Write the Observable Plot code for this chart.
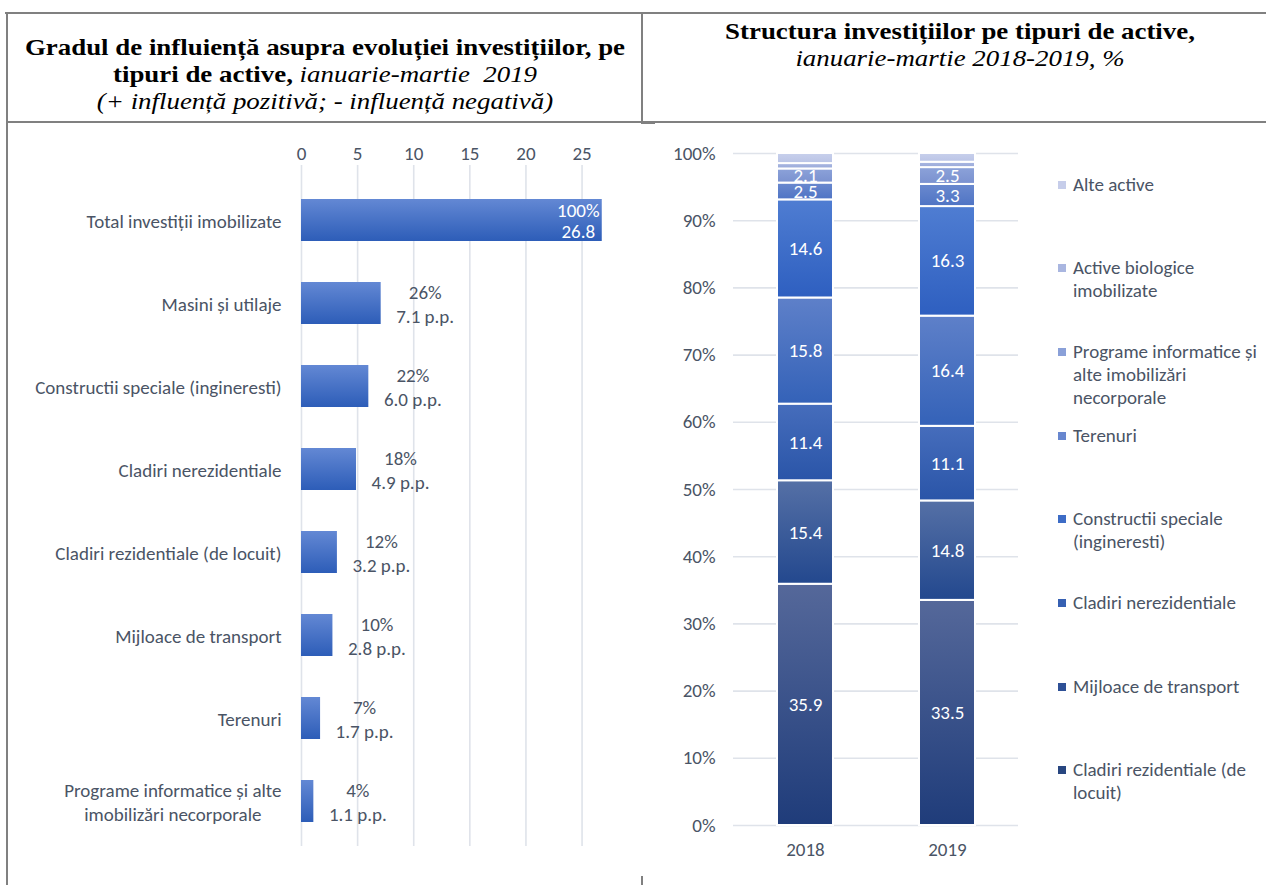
<!DOCTYPE html>
<html><head><meta charset="utf-8">
<script src="https://cdn.jsdelivr.net/npm/d3@7"></script>
<script src="https://cdn.jsdelivr.net/npm/@observablehq/plot@0.6"></script>
<style>
html,body{margin:0;padding:0;background:#fff;}
body{width:1266px;height:885px;position:relative;overflow:hidden;font-family:Carlito,Calibri,Lato,sans-serif;}
.ln{position:absolute;background:#808080;}
.title{position:absolute;font-family:"Liberation Serif","Times New Roman",serif;color:#000;text-align:center;font-size:24px;line-height:27px;white-space:nowrap;transform:scaleX(1.12);transform-origin:center top;}
.title b{font-weight:bold;}
.title i{font-style:italic;}
.chart{position:absolute;}
.leg{position:absolute;left:1058px;width:205px;font-size:19px;line-height:23px;color:#4a5465;}
.leg .sw{position:absolute;left:0;top:8px;width:8px;height:8px;}
.leg .tx{position:absolute;left:15px;top:0;width:190px;}
</style></head><body>
<div class="ln" style="left:5px;top:12px;width:1261px;height:2px"></div>
<div class="ln" style="left:6px;top:12px;width:2px;height:873px"></div>
<div class="ln" style="left:641px;top:12px;width:2px;height:111px"></div>
<div class="ln" style="left:6px;top:121px;width:1260px;height:2px"></div>
<div class="ln" style="left:641px;top:122px;width:14px;height:2px"></div>
<div class="ln" style="left:641px;top:876px;width:2px;height:9px"></div>

<div class="title" style="left:8px;width:634px;top:34px">
<b>Gradul de influiență asupra evoluției investițiilor, pe</b><br>
<b>tipuri de active,</b> <i>ianuarie-martie &nbsp;2019</i><br>
<i>(+ influență pozitivă; - influență negativă)</i>
</div>
<div class="title" style="left:643px;width:634px;top:18px">
<b>Structura investițiilor pe tipuri de active,</b><br>
<i>ianuarie-martie 2018-2019, %</i>
</div>

<div id="left" class="chart" style="left:0px;top:130px"></div>
<div id="right" class="chart" style="left:650px;top:130px"></div>
<div id="legend"></div>

<script>
// ---------- DATA ----------
const leftCategories = [
  "Total investiții imobilizate",
  "Masini și utilaje",
  "Constructii speciale (ingineresti)",
  "Cladiri nerezidentiale",
  "Cladiri rezidentiale (de locuit)",
  "Mijloace de transport",
  "Terenuri",
  "Programe informatice și alte imobilizări necorporale"
];
const leftValues = [26.8, 7.1, 6.0, 4.9, 3.2, 2.8, 1.7, 1.1];
const leftShares = ["100%", "26%", "22%", "18%", "12%", "10%", "7%", "4%"];
const leftTicks = [0, 5, 10, 15, 20, 25];

const years = ["2018", "2019"];
// stacking order, bottom to top
const seriesNames = [
  "Cladiri rezidentiale (de locuit)",
  "Mijloace de transport",
  "Cladiri nerezidentiale",
  "Constructii speciale (ingineresti)",
  "Masini și utilaje",
  "Terenuri",
  "Programe informatice și alte imobilizări necorporale",
  "Active biologice imobilizate",
  "Alte active"
];
const values2018 = [35.9, 15.4, 11.4, 15.8, 14.6, 2.5, 2.1, 0.8, 1.5];
const values2019 = [33.5, 14.8, 11.1, 16.4, 16.3, 3.3, 2.5, 0.8, 1.3];
const labeledSeries = 7; // first 7 series carry data labels
const rightTicks = [0, 10, 20, 30, 40, 50, 60, 70, 80, 90, 100];
const legendSeries = [
  "Alte active",
  "Active biologice imobilizate",
  "Programe informatice și alte imobilizări necorporale",
  "Terenuri",
  "Constructii speciale (ingineresti)",
  "Cladiri nerezidentiale",
  "Mijloace de transport",
  "Cladiri rezidentiale (de locuit)"
];

// ---------- STYLE ----------
const FONT = "Carlito, Calibri, Lato, sans-serif";
const TEXT = "#4a5465";
const GRID = "#dfe3ea";
const gradTop =    ["#55689a", "#5570a6", "#466dbc", "#5e80c9", "#4f7dd2", "#6a89cf", "#8ca2d9", "#aab8e2", "#c8d0ec"];
const gradBottom = ["#1f3c7a", "#23488e", "#2a55a8", "#3462b8", "#2e5fc0", "#4f74c4", "#7a91cf", "#9aaad9", "#bac4e6"];
const legendColor = ["#c6cdea", "#a9b6e0", "#8aa0d8", "#6887cf", "#3d6cc6", "#3660b2", "#2e5096", "#284680"];

const NS = "http://www.w3.org/2000/svg";
function addGradient(svg, id, top, bottom) {
  let defs = svg.querySelector("defs");
  if (!defs) { defs = document.createElementNS(NS, "defs"); svg.insertBefore(defs, svg.firstChild); }
  const g = document.createElementNS(NS, "linearGradient");
  g.setAttribute("id", id);
  g.setAttribute("x1", "0"); g.setAttribute("y1", "0"); g.setAttribute("x2", "0"); g.setAttribute("y2", "1");
  [[0, top], [1, bottom]].forEach(([o, c]) => {
    const s = document.createElementNS(NS, "stop");
    s.setAttribute("offset", o); s.setAttribute("stop-color", c);
    g.appendChild(s);
  });
  defs.appendChild(g);
}

// ---------- LEFT CHART ----------
const leftData = leftCategories.map((c, i) => ({cat: c, v: leftValues[i], share: leftShares[i], i}));
const wrapCat = d => d.replace(" imobilizări", "\nimobilizări");
const L = Plot.plot({
  width: 640, height: 750,
  marginTop: 35, marginBottom: 34, marginLeft: 301, marginRight: 36,
  x: {domain: [0, 27]},
  y: {domain: leftCategories, range: [45, 716], paddingInner: 0.49, paddingOuter: 0.245},
  style: {fontFamily: FONT, fontSize: "19px", color: TEXT, background: "transparent"},
  marks: [
    Plot.gridX(leftTicks, {stroke: GRID, strokeOpacity: 1, strokeWidth: 1.6}),
    Plot.axisX(leftTicks, {anchor: "top", tickSize: 0, tickPadding: 6, label: null}),
    Plot.axisY({tickSize: 0, tickPadding: 20, label: null, tickFormat: wrapCat, lineHeight: 1.26}),
    Plot.barX(leftData, {x: "v", y: "cat", fill: "url(#lbar)"}),
    Plot.text(leftData.filter(d => d.i === 0), {x: "v", y: "cat", text: d => d.share + "\n" + d.v.toFixed(1), dx: -24, fill: "white", lineHeight: 1.1}),
    Plot.text(leftData.filter(d => d.i > 0), {x: "v", y: "cat", text: d => d.share + "\n" + d.v.toFixed(1) + " p.p.", dx: 44, fill: TEXT, lineHeight: 1.24})
  ]
});
addGradient(L, "lbar", "#6388d4", "#2d5db8");
document.getElementById("left").appendChild(L);
// center-align multi-line category labels (as in the original)
const wrappedFlat = leftCategories.filter(c => wrapCat(c).includes("\n")).map(c => wrapCat(c).replace("\n", ""));
L.querySelectorAll("text").forEach(t => {
  const sp = t.querySelectorAll("tspan");
  if (sp.length > 1 && wrappedFlat.includes(t.textContent)) {
    let w = 0; sp.forEach(s => { w = Math.max(w, s.getComputedTextLength()); });
    t.setAttribute("text-anchor", "middle");
    t.setAttribute("transform", (t.getAttribute("transform") || "") + ` translate(${-w / 2},0)`);
  }
});

// ---------- RIGHT CHART ----------
const stackData = [];
years.forEach((yr, j) => {
  const vals = j === 0 ? values2018 : values2019;
  seriesNames.forEach((s, k) => stackData.push({year: yr, series: s, k, v: vals[k]}));
});
const R = Plot.plot({
  width: 616, height: 750,
  marginTop: 23, marginBottom: 55, marginLeft: 83, marginRight: 248,
  x: {domain: years, paddingInner: 0.607, paddingOuter: 0.3035},
  y: {domain: [0, 100]},
  color: {type: "identity"},
  style: {fontFamily: FONT, fontSize: "19px", color: TEXT, background: "transparent"},
  marks: [
    Plot.gridY(rightTicks, {stroke: GRID, strokeOpacity: 1, strokeWidth: 1.6}),
    Plot.axisY(rightTicks, {tickSize: 0, tickPadding: 18, tickFormat: d => d + "%", label: null}),
    Plot.axisX({tickSize: 0, tickPadding: 17, label: null}),
    Plot.barY(stackData, {x: "year", y: "v", z: "series", fill: d => `url(#g${d.k})`, stroke: "white", strokeWidth: 2}),
    Plot.text(stackData, Plot.stackY({x: "year", y: "v", z: "series", text: d => d.k < labeledSeries ? d.v.toFixed(1) : "", fill: "white"}))
  ]
});
seriesNames.forEach((s, k) => addGradient(R, "g" + k, gradTop[k], gradBottom[k]));
document.getElementById("right").appendChild(R);

// ---------- LEGEND ----------
const leg = document.getElementById("legend");
legendSeries.forEach((s, i) => {
  const d = document.createElement("div");
  d.className = "leg";
  d.style.top = (184 + i * 83.7 - 11.5) + "px";
  d.innerHTML = `<div class="sw" style="background:${legendColor[i]}"></div><div class="tx">${s}</div>`;
  leg.appendChild(d);
});
</script>
</body></html>
